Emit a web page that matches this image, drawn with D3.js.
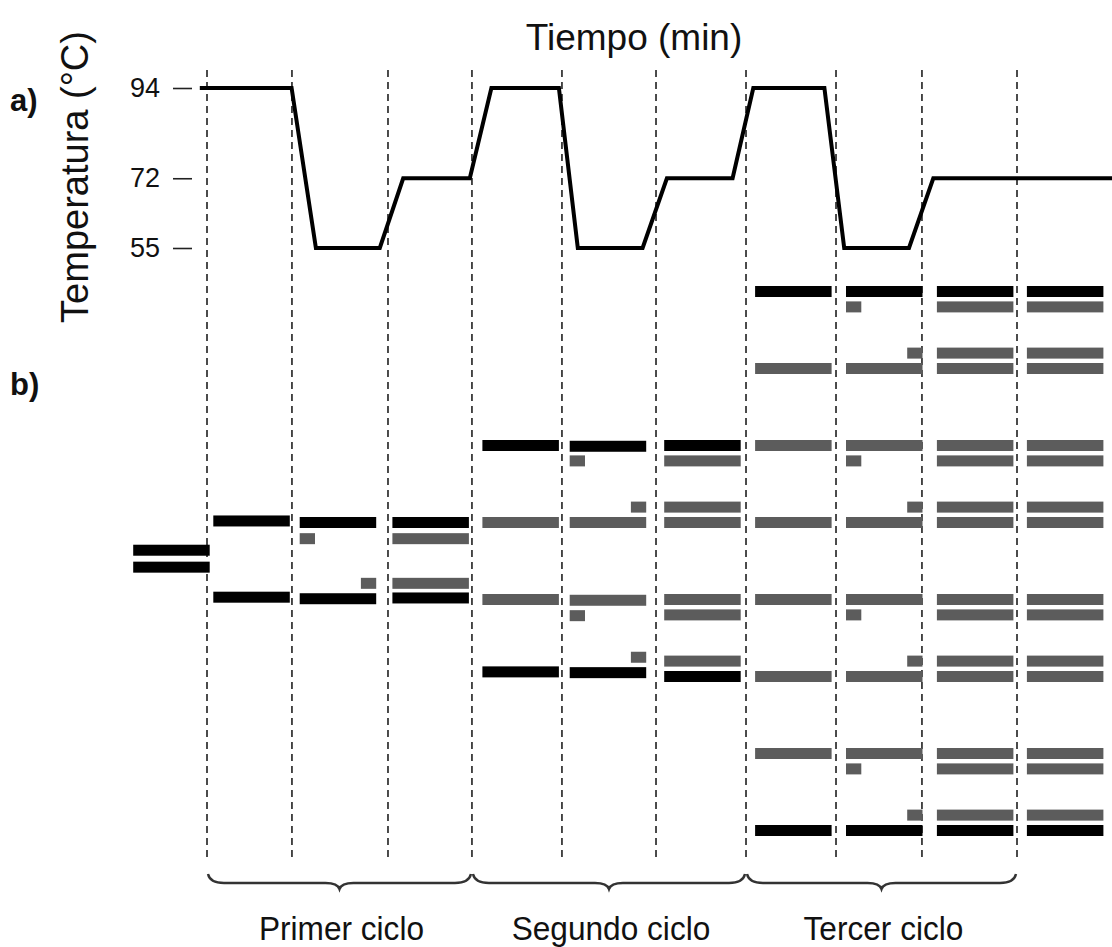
<!DOCTYPE html>
<html>
<head>
<meta charset="utf-8">
<script src="https://cdn.jsdelivr.net/npm/d3@7"></script>
<style>
  body { margin: 0; background: #fff; }
  text { font-family: "Liberation Sans", Arial, sans-serif; fill: #111; }
</style>
</head>
<body>
<div id="chart"></div>
<script>
const width = 1112;
const height = 947;

// dashed separators between the steps (time units)
const stepTimes = [0, 0.944, 2.011, 2.944, 3.944, 4.989, 5.989, 6.989, 7.944, 9.0];

// temperature profile
const tempTime = [-0.08, 0.94, 1.21, 1.92, 2.18, 2.92, 3.16, 3.91, 4.12, 4.84, 5.11, 5.84, 6.07, 6.86, 7.08, 7.8, 8.07, 10.2];
const tempValue = [94, 94, 55, 55, 72, 72, 94, 94, 55, 55, 72, 72, 94, 94, 55, 55, 72, 72];
const tempTicks = [94, 72, 55];

const cycleNames = ["Primer ciclo", "Segundo ciclo", "Tercer ciclo"];

// gel lanes: where each lane starts (time units), lane 0 = template
const laneStart = [-0.82, 0.07, 1.03, 2.06, 3.06, 4.03, 5.08, 6.09, 7.1, 8.11, 9.11];

// bands: [lane, level, strand, piece]
// strand: "orig" = template DNA, "new" = synthesized
// piece: "full" strand, "fwd" primer at left, "rev" primer at right
const bands = [
  [0, 3.36, "orig", "full"], [0, 3.58, "orig", "full"],
  [1, 2.98, "orig", "full"], [1, 3.97, "orig", "full"],
  [2, 3.0, "orig", "full"], [2, 3.21, "new", "fwd"], [2, 3.79, "new", "rev"], [2, 3.99, "orig", "full"],
  [3, 3.0, "orig", "full"], [3, 3.21, "new", "full"], [3, 3.79, "new", "full"], [3, 3.98, "orig", "full"],
  [4, 2.0, "orig", "full"], [4, 3.0, "new", "full"], [4, 4.0, "new", "full"], [4, 4.94, "orig", "full"],
  [5, 2.01, "orig", "full"], [5, 2.2, "new", "fwd"], [5, 2.8, "new", "rev"], [5, 3.0, "new", "full"],
  [5, 4.01, "new", "full"], [5, 4.21, "new", "fwd"], [5, 4.75, "new", "rev"], [5, 4.95, "orig", "full"],
  [6, 2.0, "orig", "full"], [6, 2.2, "new", "full"], [6, 2.8, "new", "full"], [6, 3.0, "new", "full"],
  [6, 4.0, "new", "full"], [6, 4.2, "new", "full"], [6, 4.8, "new", "full"], [6, 5.0, "orig", "full"],
  [7, 0, "orig", "full"], [7, 1, "new", "full"], [7, 2, "new", "full"], [7, 3, "new", "full"],
  [7, 4, "new", "full"], [7, 5, "new", "full"], [7, 6, "new", "full"], [7, 7, "orig", "full"],
  [8, 0, "orig", "full"], [8, 0.2, "new", "fwd"], [8, 0.8, "new", "rev"], [8, 1, "new", "full"],
  [8, 2, "new", "full"], [8, 2.2, "new", "fwd"], [8, 2.8, "new", "rev"], [8, 3, "new", "full"],
  [8, 4, "new", "full"], [8, 4.2, "new", "fwd"], [8, 4.8, "new", "rev"], [8, 5, "new", "full"],
  [8, 6, "new", "full"], [8, 6.2, "new", "fwd"], [8, 6.8, "new", "rev"], [8, 7, "orig", "full"],
  [9, 0, "orig", "full"], [9, 0.2, "new", "full"], [9, 0.8, "new", "full"], [9, 1, "new", "full"],
  [9, 2, "new", "full"], [9, 2.2, "new", "full"], [9, 2.8, "new", "full"], [9, 3, "new", "full"],
  [9, 4, "new", "full"], [9, 4.2, "new", "full"], [9, 4.8, "new", "full"], [9, 5, "new", "full"],
  [9, 6, "new", "full"], [9, 6.2, "new", "full"], [9, 6.8, "new", "full"], [9, 7, "orig", "full"],
  [10, 0, "orig", "full"], [10, 0.2, "new", "full"], [10, 0.8, "new", "full"], [10, 1, "new", "full"],
  [10, 2, "new", "full"], [10, 2.2, "new", "full"], [10, 2.8, "new", "full"], [10, 3, "new", "full"],
  [10, 4, "new", "full"], [10, 4.2, "new", "full"], [10, 4.8, "new", "full"], [10, 5, "new", "full"],
  [10, 6, "new", "full"], [10, 6.2, "new", "full"], [10, 6.8, "new", "full"], [10, 7, "orig", "full"],
];

const strandColor = { orig: "#000", new: "#5c5c5c" };

const svg = d3.select("#chart").append("svg")
  .attr("width", width)
  .attr("height", height);

const x = d3.scaleLinear().domain([0, 9]).range([207, 1017]);
const yTemp = d3.scaleLinear().domain([55, 94]).range([248, 88]);
const yGel = d3.scaleLinear().domain([0, 7]).range([286, 825]);

const bandW = x(0.85) - x(0);
const primerW = x(0.17) - x(0);
const bandH = 11;

// dashed step lines
svg.append("g")
  .selectAll("line")
  .data(stepTimes)
  .join("line")
  .attr("x1", d => x(d))
  .attr("x2", d => x(d))
  .attr("y1", 70)
  .attr("y2", 862)
  .attr("stroke", "#111")
  .attr("stroke-width", 1.5)
  .attr("stroke-dasharray", "7,5");

// temperature axis
const yAxis = svg.append("g")
  .attr("transform", "translate(192,0)")
  .call(d3.axisLeft(yTemp).tickValues(tempTicks).tickSize(19).tickPadding(13));
yAxis.select(".domain").remove();
yAxis.selectAll(".tick line").attr("stroke", "#222").attr("stroke-width", 1.6);
yAxis.selectAll(".tick text")
  .style("font-family", "'Liberation Sans', Arial, sans-serif")
  .style("font-size", "27px")
  .attr("fill", "#222");

// temperature profile line
const tempLine = d3.line()
  .x(d => x(d[0]))
  .y(d => yTemp(d[1]));

svg.append("path")
  .datum(d3.zip(tempTime, tempValue))
  .attr("d", tempLine)
  .attr("fill", "none")
  .attr("stroke", "#000")
  .attr("stroke-width", 4)
  .attr("stroke-linejoin", "miter");

// gel bands
svg.append("g")
  .selectAll("rect")
  .data(bands)
  .join("rect")
  .attr("x", d => {
    const x0 = x(laneStart[d[0]]);
    return d[3] === "rev" ? x0 + bandW - primerW : x0;
  })
  .attr("y", d => yGel(d[1]))
  .attr("width", d => d[3] === "full" ? bandW : primerW)
  .attr("height", bandH)
  .attr("fill", d => strandColor[d[2]]);

// braces under each cycle
function bracePath(x0, x1, y0) {
  const xm = (x0 + x1) / 2;
  const h = 9;
  return `M${x0},${y0} Q${x0 + 2},${y0 + h} ${x0 + 16},${y0 + h}` +
    ` L${xm - 14},${y0 + h} Q${xm - 2},${y0 + h} ${xm},${y0 + h + 6}` +
    ` Q${xm + 2},${y0 + h} ${xm + 14},${y0 + h}` +
    ` L${x1 - 16},${y0 + h} Q${x1 - 2},${y0 + h} ${x1},${y0}`;
}

const cycles = svg.append("g")
  .selectAll("g")
  .data(cycleNames)
  .join("g");

cycles.append("path")
  .attr("d", (d, i) => bracePath(x(stepTimes[i * 3]) + 1, x(stepTimes[i * 3 + 3]) - 1, 874))
  .attr("fill", "none")
  .attr("stroke", "#333")
  .attr("stroke-width", 2.4);

cycles.append("text")
  .attr("x", (d, i) => (x(stepTimes[i * 3]) + x(stepTimes[i * 3 + 3])) / 2 + 2)
  .attr("y", 940)
  .attr("text-anchor", "middle")
  .style("font-size", "34px")
  .text(d => d)
  .each(function() {
    // the reference font is a bit condensed
    const w = this.getComputedTextLength();
    d3.select(this).attr("textLength", w * 0.93).attr("lengthAdjust", "spacingAndGlyphs");
  });

// titles
svg.append("text")
  .attr("x", 634)
  .attr("y", 50)
  .attr("text-anchor", "middle")
  .style("font-size", "37px")
  .text("Tiempo (min)");

svg.append("text")
  .attr("transform", "translate(88,177) rotate(-90)")
  .attr("text-anchor", "middle")
  .style("font-size", "38px")
  .text("Temperatura (°C)");

svg.append("text")
  .attr("x", 10)
  .attr("y", 111)
  .style("font-size", "31px")
  .style("font-weight", "bold")
  .text("a)");

svg.append("text")
  .attr("x", 10)
  .attr("y", 395)
  .style("font-size", "31px")
  .style("font-weight", "bold")
  .text("b)");
</script>
</body>
</html>
